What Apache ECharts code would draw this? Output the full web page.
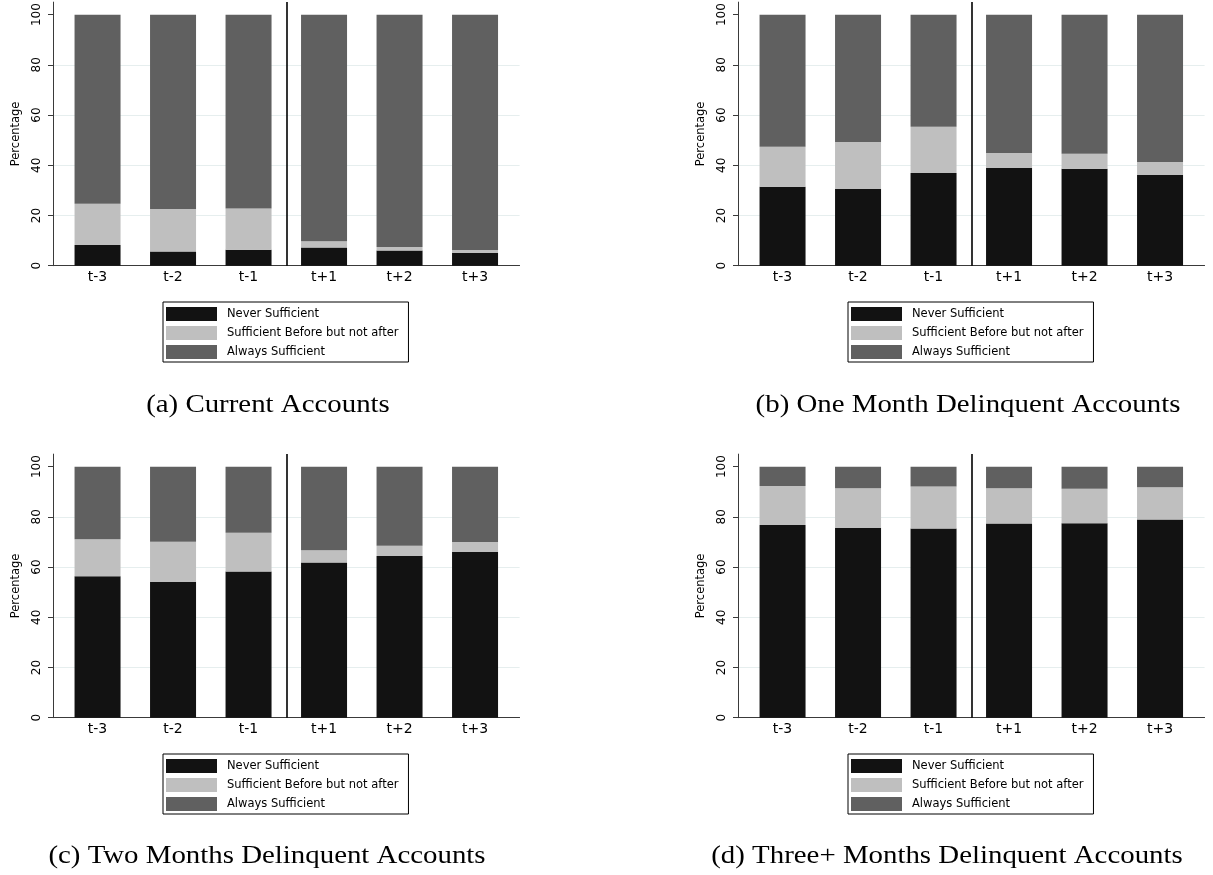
<!DOCTYPE html>
<html>
<head>
<meta charset="utf-8">
<script src="https://cdn.jsdelivr.net/npm/echarts@6/dist/echarts.min.js"></script>
<style>
  html, body { margin: 0; padding: 0; background: #ffffff; }
  #chart { width: 1213px; height: 875px; }
</style>
</head>
<body>
<div id="chart"></div>
<script>
// Periods around the event month
const categories = ['t-3', 't-2', 't-1', 't+1', 't+2', 't+3'];
const yTickValues = [0, 20, 40, 60, 80, 100];
const seriesNames = ['Never Sufficient', 'Sufficient Before but not after', 'Always Sufficient'];

// (a) Current accounts, shares in percent
const currentNever  = [8.2, 5.7, 6.4, 7.2, 6.1, 5.2];
const currentBefore = [16.5, 16.9, 16.4, 2.5, 1.3, 1.1];
const currentAlways = [75.3, 77.4, 77.2, 90.3, 92.6, 93.7];

// (b) One month delinquent
const oneMonthNever  = [31.4, 30.6, 36.9, 38.9, 38.6, 36.1];
const oneMonthBefore = [16.0, 18.7, 18.4, 6.0, 6.0, 5.2];
const oneMonthAlways = [52.6, 50.7, 44.7, 55.1, 55.4, 58.7];

// (c) Two months delinquent
const twoMonthsNever  = [56.3, 54.1, 58.2, 61.8, 64.4, 66.0];
const twoMonthsBefore = [14.8, 16.0, 15.5, 4.9, 4.1, 4.0];
const twoMonthsAlways = [28.9, 29.9, 26.3, 33.3, 31.5, 30.0];

// (d) Three or more months delinquent
const threePlusNever  = [76.8, 75.6, 75.4, 77.4, 77.5, 78.9];
const threePlusBefore = [15.5, 15.8, 16.7, 14.0, 13.7, 12.9];
const threePlusAlways = [7.7, 8.6, 7.9, 8.6, 8.8, 8.2];

const captions = [
  '(a) Current Accounts',
  '(b) One Month Delinquent Accounts',
  '(c) Two Months Delinquent Accounts',
  '(d) Three+ Months Delinquent Accounts'
];

const panelData = [
  [currentNever, currentBefore, currentAlways],
  [oneMonthNever, oneMonthBefore, oneMonthAlways],
  [twoMonthsNever, twoMonthsBefore, twoMonthsAlways],
  [threePlusNever, threePlusBefore, threePlusAlways]
];

// Layout
const COLORS = ['#121212', '#bfbfbf', '#606060'];
const AXIS_COLOR = '#3a3a3a';
const GRID_COLOR = '#e6eeee';
const SANS = '"DejaVu Sans", sans-serif';
const SERIF = '"Liberation Serif", serif';
const BAND = 75.5;          // width of one category band, px
const PAD = 0.09;           // extra axis length on each side, in bands
const PLOT_H = 263.6;
const Y_MAX = 105;

const layout = [
  { left: 53,  top: 2.1,   capX: 268, capY: 405, legTop: 302 },
  { left: 738, top: 2.1,   capX: 968, capY: 405, legTop: 302 },
  { left: 53,  top: 454.1, capX: 267, capY: 856, legTop: 754 },
  { left: 738, top: 454.1, capX: 947, capY: 856, legTop: 754 }
];

const grid = [], xAxis = [], yAxis = [], series = [], legend = [], graphic = [];

layout.forEach((p, i) => {
  const fi = 2 * i;      // frame grid: axes, gridlines, separator
  const bi = 2 * i + 1;  // bar grid: category bands
  grid.push({ left: p.left, top: p.top, width: (6 + 2 * PAD) * BAND, height: PLOT_H });
  grid.push({ left: p.left + PAD * BAND, top: p.top, width: 6 * BAND, height: PLOT_H });

  xAxis.push({
    type: 'value', gridIndex: fi, min: -PAD, max: 6 + PAD,
    axisLine: { show: true, onZero: false, lineStyle: { color: AXIS_COLOR, width: 1 } },
    axisTick: { show: false }, axisLabel: { show: false }, splitLine: { show: false }
  });
  xAxis.push({
    type: 'category', gridIndex: bi, data: categories, boundaryGap: true,
    axisLine: { show: false }, axisTick: { show: false },
    axisLabel: { show: true, margin: 5, color: '#000', fontFamily: SANS, fontSize: 14 }
  });

  yAxis.push({
    type: 'value', gridIndex: fi, min: 0, max: Y_MAX,
    name: 'Percentage', nameLocation: 'middle', nameGap: 31,
    nameTextStyle: { color: '#000', fontFamily: SANS, fontSize: 11.5 },
    axisLine: { show: true, onZero: false, lineStyle: { color: AXIS_COLOR, width: 1 } },
    axisTick: { show: true, length: 5, customValues: yTickValues, lineStyle: { color: AXIS_COLOR } },
    axisLabel: { show: true, rotate: 90, margin: 10, customValues: yTickValues,
                 color: '#000', fontFamily: SANS, fontSize: 12 },
    splitLine: { show: true, showMinLine: false, showMaxLine: false,
                 lineStyle: { color: GRID_COLOR, width: 1 } }
  });
  yAxis.push({ type: 'value', gridIndex: bi, min: 0, max: Y_MAX, show: false });

  // vertical separator between pre and post periods
  series.push({
    type: 'line', xAxisIndex: fi, yAxisIndex: fi, data: [], silent: true, animation: false,
    markLine: {
      silent: true, animation: false, symbol: ['none', 'none'], label: { show: false },
      lineStyle: { color: '#000', width: 1.6, type: 'solid' },
      data: [{ xAxis: 3 }]
    }
  });

  panelData[i].forEach((vals, k) => {
    series.push({
      type: 'bar', name: seriesNames[k], xAxisIndex: bi, yAxisIndex: bi,
      stack: 'panel' + i, data: vals, barWidth: 46,
      itemStyle: { color: COLORS[k] }, animation: false, emphasis: { disabled: true }
    });
  });

  legend.push({
    data: seriesNames, orient: 'vertical', left: p.left + 110, top: p.legTop,
    icon: 'rect', itemWidth: 51, itemHeight: 14, itemGap: 5,
    padding: [5, 10, 3, 3], borderColor: '#000', borderWidth: 1, borderRadius: 0,
    backgroundColor: '#fff', selectedMode: false,
    textStyle: { color: '#000', fontFamily: SANS, fontSize: 11.5, padding: [0, 0, 0, 5] }
  });

  // subfigure caption, set in a serif face slightly widened
  graphic.push({
    type: 'text', x: p.capX, y: p.capY, scaleX: 1.11, scaleY: 1, silent: true,
    style: { text: captions[i], fill: '#000', fontFamily: SERIF, fontSize: 26,
             align: 'center', verticalAlign: 'middle' }
  });
});

const chart = echarts.init(document.getElementById('chart'), null, { renderer: 'canvas' });
chart.setOption({
  backgroundColor: '#ffffff',
  animation: false,
  tooltip: { show: false },
  grid, xAxis, yAxis, series, legend, graphic
});
</script>
</body>
</html>
